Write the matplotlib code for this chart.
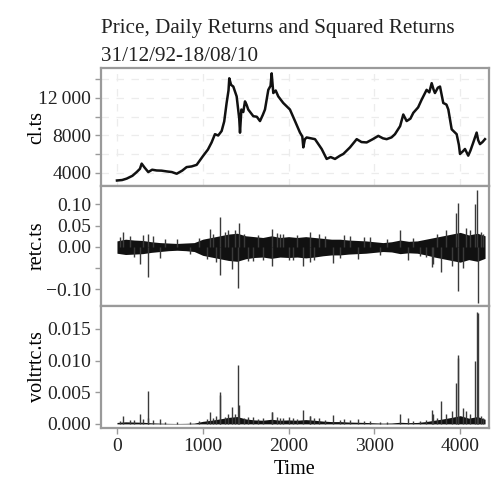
import matplotlib
matplotlib.use("Agg")
import matplotlib.pyplot as plt
import numpy as np

# ---------------- data ----------------
price_t = [0, 60, 113, 180, 230, 268, 288, 320, 365, 410, 462, 520, 579, 640, 696, 760,
           812, 870, 929, 1006, 1060, 1103, 1142, 1180, 1220, 1250, 1278, 1300, 1309, 1330,
           1356, 1395, 1425, 1434, 1450, 1472, 1492, 1510, 1530, 1589, 1630, 1667, 1700, 1725,
           1764, 1790, 1803, 1822, 1850, 1880, 1938, 2016, 2075, 2133, 2160, 2172, 2190, 2211,
           2260, 2308, 2386, 2444, 2490, 2541, 2600, 2638, 2716, 2794, 2850, 2910, 2980, 3046,
           3100, 3143, 3200, 3240, 3300, 3337, 3376, 3420, 3454, 3510, 3551, 3609, 3640, 3668,
           3690, 3706, 3740, 3765, 3803, 3840, 3862, 3901, 3959, 3985, 3998, 4030, 4056, 4094,
           4120, 4153, 4192, 4210, 4231, 4260, 4289]
price_v = [3200, 3250, 3400, 3700, 4100, 4450, 5000, 4600, 4100, 4350, 4270, 4250, 4170, 4100,
           3920, 4250, 4630, 4700, 4870, 5850, 6500, 7260, 8140, 8000, 8480, 9500, 11470, 12800,
           14100, 13400, 13220, 12170, 9800, 8300, 10770, 10500, 11640, 11300, 10770, 10060,
           10000, 9540, 10200, 10770, 12870, 13300, 14630, 12530, 12800, 12170, 11470, 10770,
           9540, 8310, 7900, 6735, 7600, 7790, 7700, 7610, 6560, 5500, 5700, 5500, 5850, 6030,
           6735, 7610, 7300, 7260, 7600, 7960, 7700, 7610, 7800, 8140, 9000, 10240, 9540, 9800,
           10420, 11000, 11820, 12870, 12600, 13580, 12900, 12530, 13100, 13220, 11470, 11300,
           10770, 8660, 8140, 7000, 6030, 6300, 6560, 5850, 6400, 7260, 8310, 7500, 7080, 7300,
           7610]

# daily returns: envelope of the dense band (upper / lower), roughly every 100 days
band_t = list(range(0, 4300, 100)) + [4290]
band_hi = [0.014, 0.018, 0.016, 0.015, 0.012, 0.010, 0.009, 0.008, 0.009, 0.010,
           0.018, 0.022, 0.026, 0.030, 0.032, 0.026, 0.024, 0.022, 0.026, 0.022,
           0.024, 0.022, 0.024, 0.022, 0.020, 0.018, 0.018, 0.016, 0.015, 0.014,
           0.012, 0.010, 0.012, 0.016, 0.013, 0.014, 0.018, 0.022, 0.026, 0.030,
           0.034, 0.028, 0.032, 0.026]
band_lo = [-0.015, -0.018, -0.017, -0.016, -0.013, -0.011, -0.009, -0.008, -0.009, -0.011,
           -0.020, -0.024, -0.028, -0.032, -0.034, -0.028, -0.025, -0.024, -0.027, -0.024,
           -0.025, -0.024, -0.026, -0.024, -0.021, -0.019, -0.019, -0.017, -0.016, -0.015,
           -0.013, -0.011, -0.012, -0.016, -0.014, -0.015, -0.019, -0.024, -0.028, -0.032,
           -0.036, -0.030, -0.034, -0.027]

# isolated large daily returns (day, return)
spike_t = [30, 74, 150, 200, 268, 300, 365, 365, 420, 501, 560, 700, 850, 960, 1047, 1084,
           1120, 1160, 1200, 1200, 1260, 1298, 1337, 1380, 1414, 1426, 1480, 1530, 1589,
           1640, 1700, 1803, 1803, 1860, 1900, 1939, 2000, 2050, 2100, 2171, 2249, 2249,
           2300, 2350, 2430, 2521, 2600, 2650, 2720, 2812, 2880, 2950, 3060, 3150, 3297,
           3394, 3450, 3530, 3600, 3666, 3685, 3730, 3782, 3840, 3899, 3950, 3978, 3978,
           4030, 4070, 4112, 4170, 4192, 4209, 4240, 4270]
spike_v = [0.022, 0.035, 0.025, -0.024, -0.040, 0.028, -0.072, 0.031, 0.025, -0.027,
           0.018, 0.018, -0.016, 0.020, -0.029, 0.043, 0.030, -0.036, 0.071, -0.067,
           0.034, 0.039, -0.052, 0.040, -0.096, 0.055, 0.030, -0.034, -0.033, 0.028,
           -0.030, 0.043, -0.044, 0.032, 0.030, 0.030, -0.032, -0.030, 0.028, -0.046,
           0.035, -0.035, -0.030, 0.030, 0.026, -0.038, -0.026, 0.028, 0.025, -0.028,
           0.022, 0.022, -0.018, 0.018, 0.039, -0.030, 0.020, -0.022, -0.025, -0.047,
           -0.040, 0.030, -0.060, 0.040, -0.045, 0.080, 0.102, -0.104, -0.050, 0.045,
           0.040, 0.100, 0.133, -0.132, 0.036, 0.030]

xticks = [0, 1000, 2000, 3000, 4000]

# ---------------- figure ----------------
plt.rcParams['font.family'] = ['Liberation Serif', 'DejaVu Serif']
fig = plt.figure(figsize=(4.92, 4.82), dpi=100)

L, W = 101 / 492, 388 / 492
def box(top, bot):
    return [L, 1 - bot / 482, W, (bot - top) / 482]

ax1 = fig.add_axes(box(68, 186))
ax2 = fig.add_axes(box(186, 306))
ax3 = fig.add_axes(box(306, 428))

xlim = (-186, 4336)
spine_col = '#9a9a9a'
tick_fs = 14

for ax in (ax1, ax2, ax3):
    ax.set_xlim(*xlim)
    ax.set_xticks(xticks)
    for s in ax.spines.values():
        s.set_color(spine_col)
        s.set_linewidth(1.6)
    ax.tick_params(axis='both', colors=spine_col, labelcolor='#222222',
                   labelsize=tick_fs, length=4, width=1, pad=3)
    ax.tick_params(axis='x', labelbottom=False)

# --- top: price
ax1.set_ylim(2613, 15200)
ax1.set_yticks([4000, 8000, 12000])
ax1.set_yticks([6000, 10000, 14000], minor=True)
ax1.set_yticklabels(['4000', '8000', '12\u2009000'])
ax1.tick_params(axis='y', which='minor', colors=spine_col, length=4, width=1)
for yv in [4000, 6000, 8000, 10000, 12000, 14000]:
    ax1.axhline(yv, color='#ececec', lw=0.9, ls=(0, (6, 6)), zorder=0)
for xv in xticks:
    ax1.axvline(xv, color='#ececec', lw=0.9, ls=(0, (6, 6)), zorder=0)
ax1.plot(price_t, price_v, color='#111111', lw=1.8)
ax1.set_ylabel('cl.ts', fontsize=14.5)

# --- middle: returns
bt = np.array(band_t)
ax2.fill_between(bt, band_lo, band_hi, color='#111111', lw=0)
ax2.vlines(spike_t, 0, spike_v, color='#3a3a3a', lw=1.0)
ax2.set_ylim(-0.139, 0.143)
ax2.set_yticks([-0.10, -0.05, 0.0, 0.05, 0.10])
ax2.set_yticklabels(['\u22120.10', '', '0.00', '0.05', '0.10'])
ax2.set_ylabel('retc.ts', fontsize=14.5)

# --- bottom: squared returns (derived from the returns above)
band_sq = np.maximum(np.array(band_hi) ** 2, np.array(band_lo) ** 2)
ax3.fill_between(bt, 0, band_sq, color='#111111', lw=0)
ax3.vlines(spike_t, 0, np.array(spike_v) ** 2, color='#3a3a3a', lw=1.0)
ax3.set_ylim(-0.00065, 0.0186)
ax3.set_yticks([0.0, 0.005, 0.010, 0.015])
ax3.set_yticklabels(['0.000', '0.005', '0.010', '0.015'])
ax3.tick_params(axis='x', labelbottom=True, labelsize=tick_fs)
ax3.set_xticklabels([str(v) for v in xticks])
ax3.set_xlabel('Time', fontsize=14.5, labelpad=4)
ax3.set_ylabel('voltrtc.ts', fontsize=14.5)

for ax in (ax1, ax2, ax3):
    ax.yaxis.set_label_coords(-0.14, 0.5)

fig.text(L, 1 - 33 / 482, 'Price, Daily Returns and Squared Returns',
         fontsize=15.2, color='#222222', ha='left', va='baseline')
fig.text(L, 1 - 61 / 482, '31/12/92-18/08/10',
         fontsize=15.2, color='#222222', ha='left', va='baseline')

fig.savefig('out.png', dpi=100)
